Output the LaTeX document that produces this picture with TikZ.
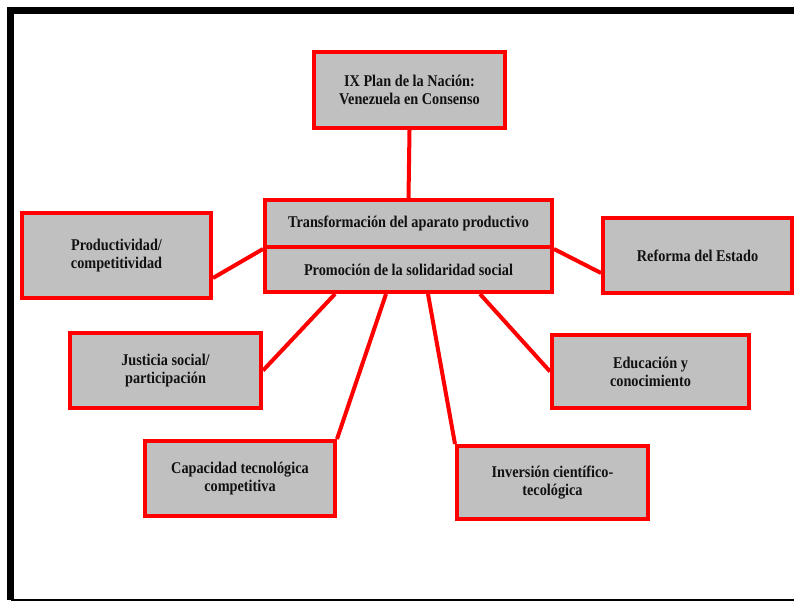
\documentclass[tikz,border=0pt]{standalone}
\usepackage{fontspec}
\setmainfont{Liberation Serif}[FakeStretch=0.87]
\definecolor{edge}{HTML}{FF0000}
\definecolor{boxgray}{HTML}{C0C0C0}
\definecolor{ink}{HTML}{111111}
\tikzset{box/.style={draw=edge,fill=boxgray,line width=4pt,inner sep=0pt,align=center,
  font=\fontsize{16.4}{18}\selectfont\bfseries,text=ink},
link/.style={edge,line width=4pt},
rim/.style={black,line width=7pt}}
\begin{document}
\begin{tikzpicture}[x=1pt,y=-1pt]
\useasboundingbox (0,0) rectangle (794,602);
% outer frame
\draw[rim] (10.5,600) -- (10.5,11) -- (794,11);
\draw[black,line width=2pt] (10.5,600) -- (794,600);
% boxes
\node[box,minimum width=191,minimum height=76] (plan) at (409.5,90) {IX Plan de la Nación:\\Venezuela en Consenso};
\node[box,minimum width=287,minimum height=47] (transf) at (408.5,223.5) {Transformación del aparato productivo};
\node[box,minimum width=287,minimum height=45] (promo) at (408.5,269.5) {Promoción de la solidaridad social};
\node[box,minimum width=189,minimum height=85] (prod) at (116.5,255.5) {Productividad/\\competitividad};
\node[box,minimum width=189,minimum height=75] (estado) at (697.5,255.5) {Reforma del Estado};
\node[box,minimum width=191,minimum height=75] (justicia) at (165.5,370.5) {Justicia social/\\participación};
\node[box,minimum width=197,minimum height=73] (edu) at (650.5,371.5) {Educación y\\conocimiento};
\node[box,minimum width=190,minimum height=75] (capac) at (240,478.5) {Capacidad tecnológica\\competitiva};
\node[box,minimum width=191,minimum height=73] (inver) at (552.5,482.5) {Inversión científico-\\tecológica};
% connectors
\draw[link] (plan.south) -- (transf.north);
\draw[link] ([yshift=-22.5pt]prod.east) -- (transf.south west);
\draw[link] ([yshift=-17.5pt]estado.west) -- (transf.south east);
\draw[link] (justicia.east) -- ([xshift=-73.5pt]promo.south);
\draw[link] (capac.north east) -- ([xshift=-22.5pt]promo.south);
\draw[link] (inver.north west) -- ([xshift=19.5pt]promo.south);
\draw[link] (edu.west) -- ([xshift=71.5pt]promo.south);
\end{tikzpicture}
\end{document}
